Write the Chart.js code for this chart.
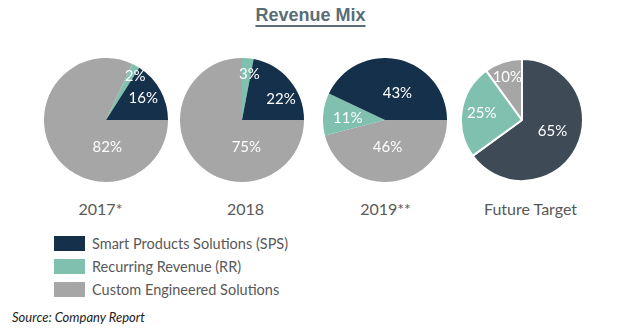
<!DOCTYPE html>
<html>
<head>
<meta charset="utf-8">
<script src="https://cdn.jsdelivr.net/npm/chart.js@4.4.1/dist/chart.umd.min.js"></script>
<style>
    body { margin: 0; background: #fff; }
    #page { position: relative; width: 631px; height: 332px; overflow: hidden; font-family: Lato, "Open Sans", sans-serif; }
    #title { position: absolute; left: 0; width: 621px; top: 5px; text-align: center; font: bold 18px "Liberation Sans", Arial, sans-serif; color: #5a6d75; text-decoration: underline; text-decoration-thickness: 2px; text-underline-offset: 4px; }
    .pie { position: absolute; width: 124px; height: 124px; }
    .year { position: absolute; top: 199px; width: 140px; text-align: center; font-size: 16px; color: #595959; }
    #legend { position: absolute; left: 54px; top: 236px; }
    .row { height: 23px; display: flex; align-items: flex-start; font-size: 14.5px; color: #595959; }
    .sw { width: 31px; height: 15px; margin-right: 7px; }
    .row span { line-height: 15px; }
    #source { position: absolute; left: 12px; top: 309px; font-size: 13px; font-style: italic; color: #222; }
</style>
</head>
<body>
<div id="page">
    <div id="title">Revenue Mix</div>
    <div id="legend"></div>
    <div id="source">Source: Company Report</div>
</div>
<script>
// Data
const categories = ['2017*', '2018', '2019**', 'Future Target'];
const seriesNames = ['Smart Products Solutions (SPS)', 'Recurring Revenue (RR)', 'Custom Engineered Solutions'];
const sps = [16, 22, 43, 65];
const rr = [2, 3, 11, 25];
const ces = [82, 75, 46, 10];

const colors = ['#14304a', '#7fc1ae', '#a6a6a6'];
const targetColors = ['#3e4b56', '#7fc1ae', '#a6a6a6'];

// pie centres and label placement (fractions of radius, order SPS, RR, CES)
const centres = [[105.5, 120], [241.5, 120], [384.5, 120], [521.5, 120]];
const labelOffsets = [
    [[0.60, -0.36], [0.47, -0.70], [0.02, 0.43]],
    [[0.63, -0.33], [0.12, -0.74], [0.07, 0.43]],
    [[0.20, -0.43], [-0.60, -0.03], [0.04, 0.44]],
    [[0.50, 0.18], [-0.66, -0.11], [-0.24, -0.70]]
];

const page = document.getElementById('page');

const pctLabels = {
    id: 'pctLabels',
    afterDatasetsDraw(chart, args, opts) {
        const ctx = chart.ctx;
        const meta = chart.getDatasetMeta(0);
        const order = chart.data.order;
        ctx.save();
        ctx.fillStyle = '#ffffff';
        ctx.font = '15px Lato, "Open Sans", sans-serif';
        ctx.textAlign = 'center';
        ctx.textBaseline = 'middle';
        meta.data.forEach((arc, i) => {
            const s = order[i];
            const off = opts.offsets[s];
            const r = arc.outerRadius;
            ctx.fillText(chart.data.datasets[0].data[i] + '%', arc.x + off[0] * r, arc.y + off[1] * r);
        });
        ctx.restore();
    }
};

categories.forEach((cat, k) => {
    const isTarget = k === 3;
    const vals = [sps[k], rr[k], ces[k]];
    const cols = isTarget ? targetColors : colors;
    // historical pies run SPS counter-clockwise from 3 o'clock, target clockwise from 12
    const order = isTarget ? [0, 1, 2] : [2, 1, 0];

    const canvas = document.createElement('canvas');
    canvas.className = 'pie';
    canvas.width = 124;
    canvas.height = 124;
    canvas.style.left = (centres[k][0] - 62) + 'px';
    canvas.style.top = (centres[k][1] - 62) + 'px';
    page.appendChild(canvas);

    new Chart(canvas.getContext('2d'), {
        type: 'pie',
        data: {
            labels: order.map(s => seriesNames[s]),
            order: order,
            datasets: [{
                data: order.map(s => vals[s]),
                backgroundColor: order.map(s => cols[s]),
                borderColor: '#ffffff',
                borderWidth: isTarget ? 2 : 0
            }]
        },
        options: {
            responsive: false,
            animation: false,
            rotation: isTarget ? 0 : 90,
            layout: { padding: 0 },
            plugins: {
                legend: { display: false },
                tooltip: { enabled: false },
                pctLabels: { offsets: labelOffsets[k] }
            }
        },
        plugins: [pctLabels]
    });

    const yr = document.createElement('div');
    yr.className = 'year';
    yr.textContent = cat;
    yr.style.left = (centres[k][0] - 70 + [-5, 4, 1, 9][k]) + 'px';
    page.appendChild(yr);
});

const legend = document.getElementById('legend');
seriesNames.forEach((name, i) => {
    const row = document.createElement('div');
    row.className = 'row';
    row.innerHTML = '<div class="sw" style="background:' + colors[i] + '"></div><span>' + name + '</span>';
    legend.appendChild(row);
});
</script>
</body>
</html>
